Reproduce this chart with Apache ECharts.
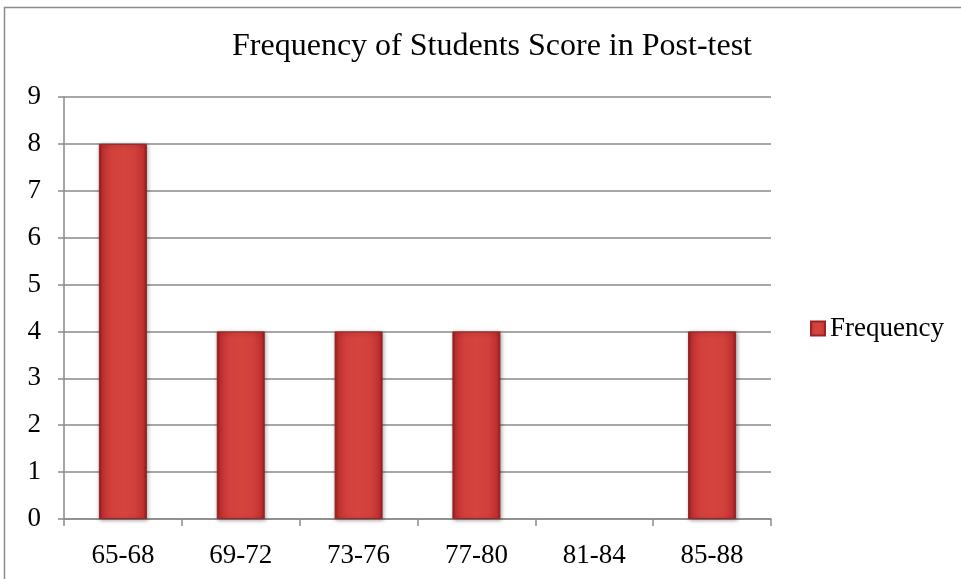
<!DOCTYPE html>
<html>
<head>
<meta charset="utf-8">
<script src="https://cdn.jsdelivr.net/npm/echarts@6/dist/echarts.min.js"></script>
<style>
  html, body { margin: 0; padding: 0; background: #ffffff; }
  #chart { width: 961px; height: 579px; }
</style>
</head>
<body>
<div id="chart"></div>
<script>
// Score bands and how many students fell in each
var scoreBands = ['65-68', '69-72', '73-76', '77-80', '81-84', '85-88'];
var frequency = [8, 4, 4, 4, 0, 4];
var yTicks = [0, 1, 2, 3, 4, 5, 6, 7, 8, 9];

var serif = '"Liberation Serif", "Times New Roman", serif';
var gridGray = '#8a8a8a';

// Bevelled red fill for the columns
var barFill = new echarts.graphic.LinearGradient(0, 0, 1, 0, [
  { offset: 0, color: '#8f1c1c' },
  { offset: 0.07, color: '#bf3030' },
  { offset: 0.25, color: '#d1403c' },
  { offset: 0.5, color: '#d6443e' },
  { offset: 0.75, color: '#d1403c' },
  { offset: 0.93, color: '#bf3030' },
  { offset: 1, color: '#8f1c1c' }
]);

// Empty bands get no column, border or shadow at all
var barData = frequency.map(function (v) {
  if (v === 0) {
    return { value: v, itemStyle: { opacity: 0, borderWidth: 0, shadowBlur: 0 } };
  }
  return v;
});

var chart = echarts.init(document.getElementById('chart'), null, { renderer: 'canvas' });

chart.setOption({
  animation: false,
  backgroundColor: '#ffffff',
  graphic: [{
    type: 'rect',
    silent: true,
    shape: { x: 4.5, y: 7.5, width: 1200, height: 1200 },
    style: { fill: 'none', stroke: '#8c8c8c', lineWidth: 1.5 }
  }],
  title: {
    text: 'Frequency of Students Score in Post-test',
    left: 487,
    textAlign: 'center',
    top: 26,
    textStyle: { fontFamily: serif, fontSize: 32, fontWeight: 'normal', color: '#000000' }
  },
  legend: {
    data: ['Frequency'],
    orient: 'vertical',
    left: 805,
    top: 310,
    icon: 'rect',
    itemWidth: 14,
    itemHeight: 14,
    itemGap: 6,
    textStyle: { fontFamily: serif, fontSize: 27, color: '#000000', padding: [0, 0, 0, 0] }
  },
  grid: { left: 64, right: 190, top: 97, bottom: 60, containLabel: false },
  xAxis: {
    type: 'category',
    data: scoreBands,
    axisLine: { lineStyle: { color: gridGray, width: 1.5 } },
    axisTick: { show: true, length: 7, lineStyle: { color: gridGray, width: 1.5 } },
    axisLabel: { fontFamily: serif, fontSize: 27, color: '#000000', margin: 23 }
  },
  yAxis: {
    type: 'value',
    min: yTicks[0],
    max: yTicks[yTicks.length - 1],
    interval: 1,
    axisLine: { show: true, lineStyle: { color: gridGray, width: 1.5 } },
    axisTick: { show: true, length: 6, lineStyle: { color: gridGray, width: 1.5 } },
    axisLabel: { fontFamily: serif, fontSize: 27, color: '#000000', margin: 23 },
    splitLine: { lineStyle: { color: gridGray, width: 1.5 } }
  },
  series: [{
    name: 'Frequency',
    type: 'bar',
    data: barData,
    barWidth: 48,
    itemStyle: {
      color: barFill,
      borderColor: '#9a2424',
      borderWidth: 1,
      shadowColor: 'rgba(0,0,0,0.35)',
      shadowBlur: 4,
      shadowOffsetX: 1,
      shadowOffsetY: 1
    }
  }]
});
</script>
</body>
</html>
